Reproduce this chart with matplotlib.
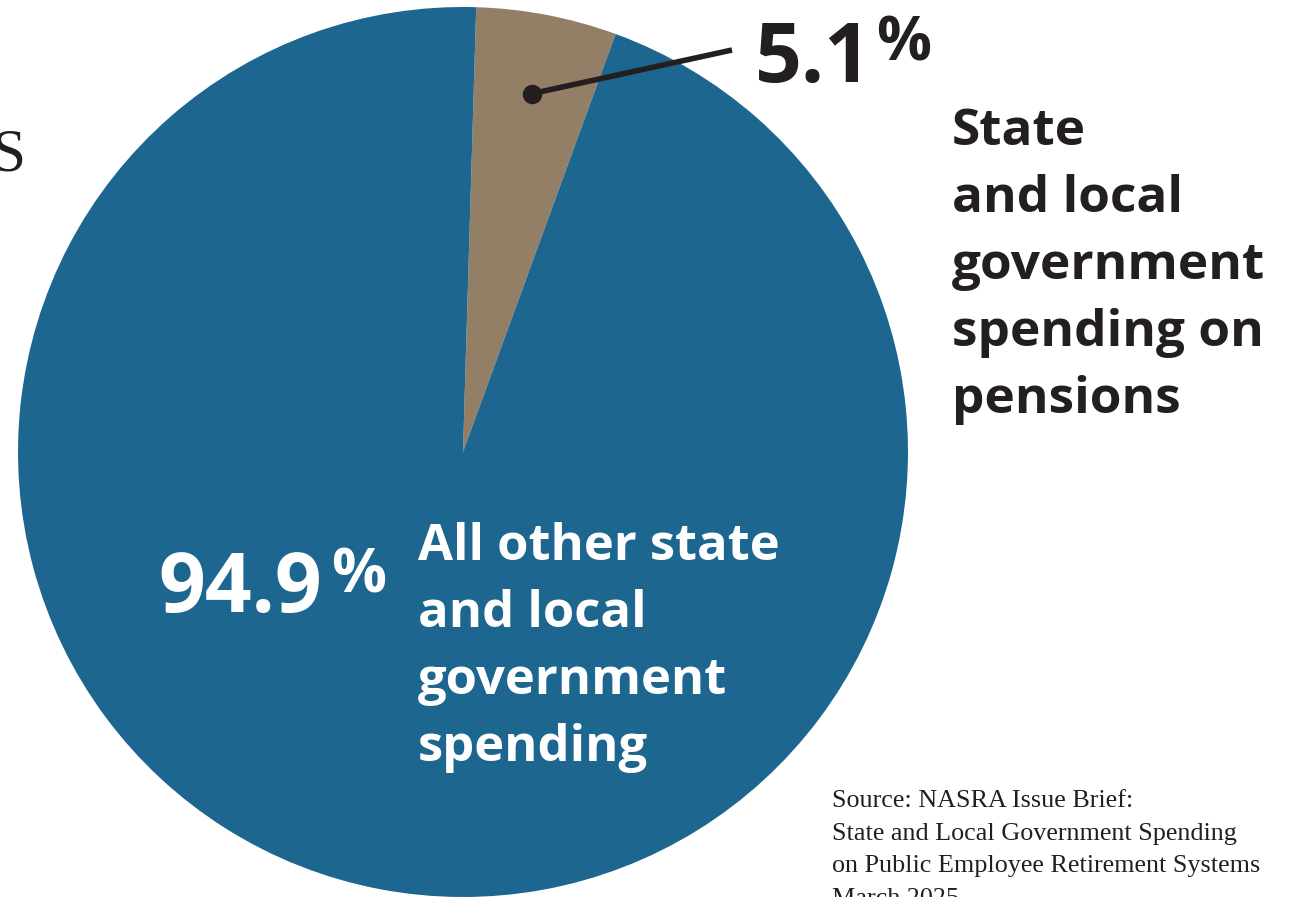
"""
Pie: state and local government spending on pensions
"""
import numpy as np
import matplotlib
matplotlib.use('Agg')
import matplotlib.pyplot as plt

W, H = 1291, 897

# data
labels = ['State and local government spending on pensions',
          'All other state and local government spending']
shares = [5.1, 94.9]
colors = ['#927f66', '#1d668f']

pension_lines = ['State', 'and local', 'government', 'spending on', 'pensions']
other_lines = ['All other state', 'and local', 'government', 'spending']
source_lines = ['Source: NASRA Issue Brief:',
                'State and Local Government Spending',
                'on Public Employee Retirement Systems',
                'March 2025']

DARK = '#231f20'
SANS = ['Open Sans', 'DejaVu Sans']

fig = plt.figure(figsize=(W / 100, H / 100), dpi=100)
ax = fig.add_axes([0, 0, 1, 1])

# pie geometry in pixel units (y measured from the bottom)
cx, cy, R = 463, H - 452, 445
start = 88.3
ax.pie(shares, colors=colors, startangle=start, counterclock=False,
       center=(cx, cy), radius=R, wedgeprops=dict(linewidth=0))
ax.set_xlim(0, W)
ax.set_ylim(0, H)
ax.set_aspect('equal')
ax.axis('off')

# leader from the small wedge to its percentage
mid = np.deg2rad(start - shares[0] / 100 * 360 / 2)
px, py = cx + 0.82 * R * np.cos(mid), cy + 0.82 * R * np.sin(mid)
ax.plot([px, 732], [py, H - 50], color=DARK, lw=4, solid_capstyle='butt')
ax.plot(px, py, 'o', color=DARK, ms=13)

# big percentages
ax.text(755, H - 82, f'{shares[0]}', fontsize=59, fontweight='bold',
        family=SANS, color=DARK, va='baseline', ha='left')
ax.text(876, H - 60, '%', fontsize=44, fontweight='bold', family=SANS,
        color=DARK, va='baseline', ha='left')
ax.text(322, H - 612, f'{shares[1]}', fontsize=59, fontweight='bold',
        family=SANS, color='white', va='baseline', ha='right')
ax.text(331, H - 592, '%', fontsize=44, fontweight='bold', family=SANS,
        color='white', va='baseline', ha='left')

# category labels
for i, line in enumerate(pension_lines):
    ax.text(952, H - (145 + 67 * i), line, fontsize=37, fontweight='bold',
            family=SANS, color=DARK, va='baseline', ha='left')
for i, line in enumerate(other_lines):
    ax.text(418, H - (560 + 67 * i), line, fontsize=36.5, fontweight='bold',
            family=SANS, color='white', va='baseline', ha='left')

# source note
for i, line in enumerate(source_lines):
    ax.text(832, H - (807 + 32.5 * i), line, fontsize=18.8,
            family=['Liberation Serif', 'DejaVu Serif'], color=DARK,
            va='baseline', ha='left')

# edge of a cropped title on the left
ax.text(26, H - 170, 'S', fontsize=44, family=['Liberation Serif'],
        color=DARK, va='baseline', ha='right')

fig.savefig('out.png', dpi=100)
